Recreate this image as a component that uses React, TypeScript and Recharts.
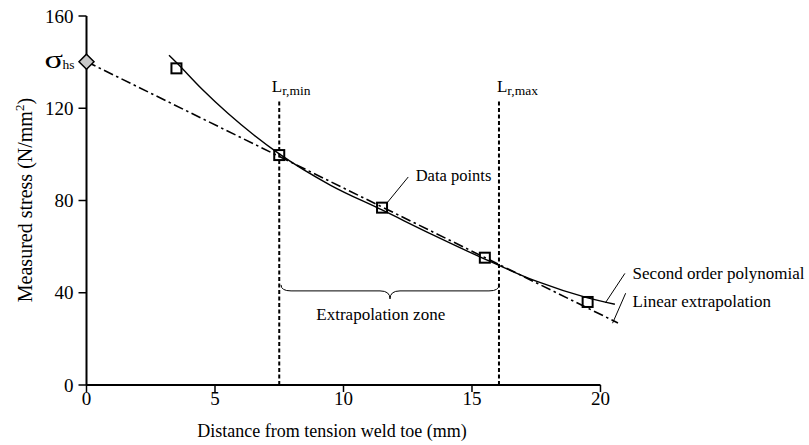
import React from "react";
import {
  ComposedChart,
  Line,
  Scatter,
  XAxis,
  YAxis,
  ReferenceLine,
  ReferenceDot,
} from "recharts";

const FONT = '"Liberation Serif", "Times New Roman", serif';

// axis ticks
const X_TICKS = [0, 5, 10, 15, 20];
const Y_TICKS = [0, 40, 80, 120, 160];

// measured stresses (squares)
const MEASURED_X = [3.5, 7.5, 11.5, 15.5, 19.5];
const MEASURED_Y = [137.3, 99.7, 76.9, 55.2, 36];

// hot spot stress (diamond)
const HOTSPOT_X = [0];
const HOTSPOT_Y = [140.2];

// linear extrapolation line
const LINEAR_X = [0, 20.68];
const LINEAR_Y = [140.2, 26.9];

// second order polynomial
const POLY_X = [3.21, 3.5, 4.5, 5.5, 6.5, 7.5, 9.5, 11.5, 13.5, 15.5, 17.5, 19.5, 20.56];
const POLY_Y = [143, 139.8, 128.2, 117.8, 108.5, 100.2, 86.6, 75.9, 65, 54.6, 45, 37.8, 35];

// reference lengths L_r,min / L_r,max
const LR_X = [7.5, 16.05];
const LR_TOP = 124;

const toPoints = (xs: number[], ys: number[]) => xs.map((x, i) => ({ x, y: ys[i] }));

const measured = toPoints(MEASURED_X, MEASURED_Y);
const hotspot = toPoints(HOTSPOT_X, HOTSPOT_Y);
const linear = toPoints(LINEAR_X, LINEAR_Y);
const poly = toPoints(POLY_X, POLY_Y);

const Square = (p: any) => (
  <rect x={p.cx - 5} y={p.cy - 5} width={10} height={10} fill="none" stroke="#000" strokeWidth={2} />
);

const Diamond = (p: any) => (
  <path
    d={`M${p.cx},${p.cy - 7.5} L${p.cx + 7.5},${p.cy} L${p.cx},${p.cy + 7.5} L${p.cx - 7.5},${p.cy} Z`}
    fill="#c8c8c8"
    stroke="#000"
    strokeWidth={1.5}
  />
);

const Brace = (p: any) => {
  const { x1, x2, y1: y } = p;
  const xm = (x1 + x2) / 2;
  const d = `M${x1},${y - 6} Q${x1},${y} ${x1 + 10},${y} L${xm - 10},${y} Q${xm},${y} ${xm},${y + 8}
    Q${xm},${y} ${xm + 10},${y} L${x2 - 10},${y} Q${x2},${y} ${x2},${y - 6}`;
  return <path d={d} fill="none" stroke="#000" strokeWidth={1} />;
};

const note = (x: number, y: number, text: string, anchor: "start" | "middle" = "start", size = 17) => (
  <ReferenceDot
    key={text}
    x={x}
    y={y}
    ifOverflow="visible"
    shape={(p: any) => (
      <text x={p.cx} y={p.cy} textAnchor={anchor} fontSize={size} fontFamily={FONT} fill="#000">
        {text}
      </text>
    )}
  />
);

const leader = (x1: number, y1: number, x2: number, y2: number) => (
  <ReferenceLine
    key={`${x1}-${y1}`}
    segment={[{ x: x1, y: y1 }, { x: x2, y: y2 }]}
    stroke="#000"
    strokeWidth={1}
    ifOverflow="visible"
  />
);

const lrLabel = (x: number, sub: string, dx: number) => (
  <ReferenceDot
    key={sub}
    x={x}
    y={LR_TOP}
    ifOverflow="visible"
    shape={(p: any) => (
      <text x={p.cx + dx} y={p.cy - 7} fontFamily={FONT} fill="#000">
        <tspan fontSize={17}>L</tspan>
        <tspan fontSize={13.5} dy={3}>{sub}</tspan>
      </text>
    )}
  />
);

export default function App() {
  return (
    <div style={{ position: "absolute", left: 0, top: 0, width: 809, height: 445, background: "#fff", fontFamily: FONT }}>
      <ComposedChart width={809} height={445} margin={{ top: 16, right: 13.2, bottom: 0, left: 0 }}>
        <XAxis
          type="number"
          dataKey="x"
          domain={[0, 27.6]}
          ticks={X_TICKS}
          axisLine={false}
          tickLine={{ stroke: "#000", strokeWidth: 1.5 }}
          tickSize={7}
          tickMargin={0}
          height={60}
          tick={{ fill: "#000", fontSize: 19, fontFamily: FONT }}
        />
        <YAxis
          type="number"
          dataKey="y"
          domain={[0, 160]}
          ticks={Y_TICKS}
          axisLine={{ stroke: "#000", strokeWidth: 2 }}
          tickLine={{ stroke: "#000", strokeWidth: 1.5 }}
          tickSize={8}
          tickMargin={5}
          width={86.5}
          tick={{ fill: "#000", fontSize: 19, fontFamily: FONT }}
        />

        {/* x axis line stops at 20 */}
        <ReferenceLine segment={[{ x: 0, y: 0 }, { x: 20, y: 0 }]} stroke="#000" strokeWidth={2} />

        {LR_X.map((x) => (
          <ReferenceLine
            key={x}
            segment={[{ x, y: 0 }, { x, y: LR_TOP }]}
            stroke="#000"
            strokeWidth={2}
            strokeDasharray="4 2.5"
          />
        ))}
        {lrLabel(LR_X[0], "r,min", -7.5)}
        {lrLabel(LR_X[1], "r,max", -2)}

        <ReferenceLine segment={[{ x: 7.57, y: 40.8 }, { x: 16.05, y: 40.8 }]} shape={Brace} />
        {note(11.45, 28, "Extrapolation zone", "middle")}

        <Line
          data={linear}
          dataKey="y"
          type="linear"
          stroke="#000"
          strokeWidth={1.6}
          strokeDasharray="10 3.5 2.5 3.5"
          dot={false}
          isAnimationActive={false}
        />
        <Line
          data={poly}
          dataKey="y"
          type="monotone"
          stroke="#000"
          strokeWidth={1.4}
          dot={false}
          isAnimationActive={false}
        />
        <Scatter data={measured} dataKey="y" shape={Square} isAnimationActive={false} />
        <Scatter data={hotspot} dataKey="y" shape={Diamond} isAnimationActive={false} />

        {leader(12.52, 90.2, 11.69, 78.9)}
        {note(12.81, 88.5, "Data points", "start", 16.5)}
        {leader(20.95, 48.4, 20.19, 35.6)}
        {note(21.25, 45.8, "Second order polynomial")}
        {leader(20.98, 39.8, 20.47, 26.8)}
        {note(21.25, 34, "Linear extrapolation")}

        <ReferenceDot
          x={0}
          y={140.2}
          ifOverflow="visible"
          shape={(p: any) => (
            <g fontFamily={FONT} fill="#000">
              <text x={p.cx - 42} y={p.cy + 6} fontSize={25} textLength={18.5} lengthAdjust="spacingAndGlyphs">
                σ
              </text>
              <text x={p.cx - 24} y={p.cy + 7} fontSize={13.5}>
                hs
              </text>
            </g>
          )}
        />

        {/* axis titles */}
        <ReferenceDot
          x={9.55}
          y={0}
          shape={(p: any) => (
            <text x={p.cx} y={p.cy + 52} textAnchor="middle" fontSize={18} fontFamily={FONT} fill="#000">
              Distance from tension weld toe (mm)
            </text>
          )}
        />
        <ReferenceDot
          x={0}
          y={80.2}
          shape={(p: any) => (
            <text
              x={p.cx - 54}
              y={p.cy}
              transform={`rotate(-90 ${p.cx - 54} ${p.cy})`}
              textAnchor="middle"
              fontSize={20}
              fontFamily={FONT}
              fill="#000"
            >
              <tspan>Measured stress (N/mm</tspan>
              <tspan fontSize={13} dy={-8}>2</tspan>
              <tspan dy={8}>)</tspan>
            </text>
          )}
        />
      </ComposedChart>
    </div>
  );
}
